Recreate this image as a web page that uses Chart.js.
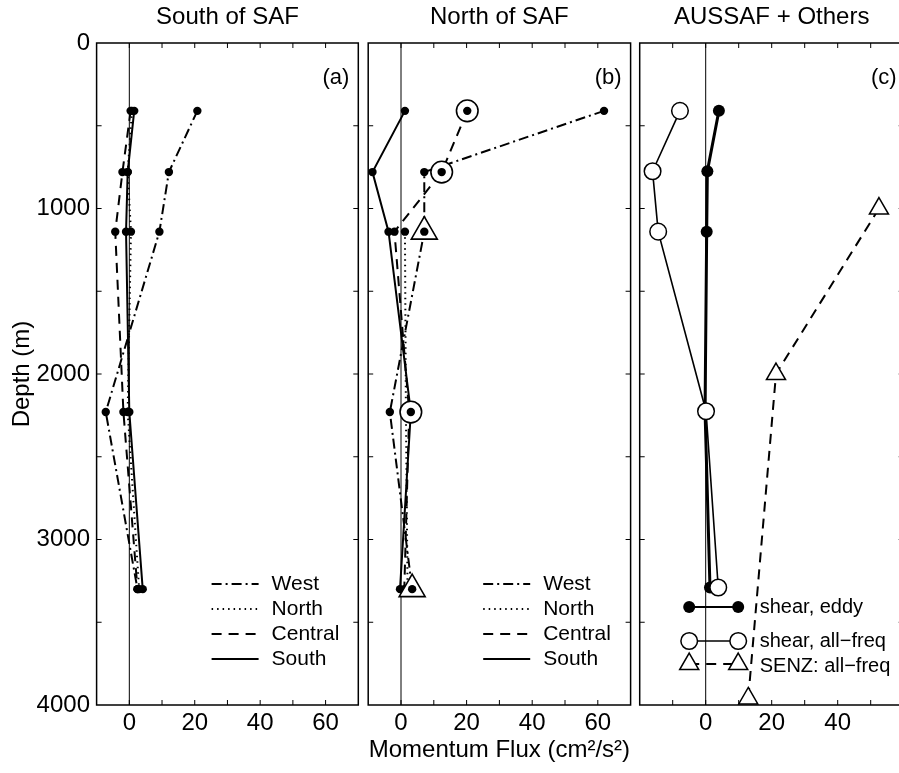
<!DOCTYPE html>
<html><head><meta charset="utf-8">
<script src="https://cdn.jsdelivr.net/npm/chart.js@4.4.0/dist/chart.umd.min.js"></script>
<style>
html,body{margin:0;padding:0;background:#fff;overflow:hidden;width:899px;height:773px;position:relative;}
canvas{position:absolute;top:0;}
</style></head><body>
<canvas id="ca" width="362" height="773" style="left:0px"></canvas>
<canvas id="cb" width="270" height="773" style="left:364px"></canvas>
<canvas id="cc" width="270" height="773" style="left:636px"></canvas>
<script>
// ---------------- DATA ----------------
const depths = [410, 780, 1140, 2230, 3300];           // m
const categories = ['West', 'North', 'Central', 'South'];
// Panel (a) South of SAF
const aWest    = [20.8, 12.1, 9.2, -7.2, 2.5];
const aNorth   = [0.8, -0.5, 0.5, -0.5, 3.0];
const aCentral = [0.4, -2.1, -4.3, -1.8, 2.5];
const aSouth   = [1.5, -0.5, -1.0, 0.0, 4.1];
// Panel (b) North of SAF
const bWest    = [61.9, 7.1, 7.1, -3.4, 3.4];
const bNorth   = [null, null, 1.2, 1.5, 2.0];
const bCentral = [20.2, 12.4, -2.0, 2.5, 1.0];
const bSouth   = [1.2, -8.7, -3.8, 3.0, -0.3];
const bCircled    = [['Central', 0], ['Central', 1], ['South', 3]];
const bTriangled  = [['West', 2], ['West', 4]];
// Panel (c) AUSSAF + Others
const cDepths    = [410, 775, 1140, 2225, 3290];
const cShearEddy = [4.0, 0.5, 0.3, -0.2, 1.3];
const cShearAll  = [-7.8, -16.1, -14.4, 0.1, 3.8];
const senzDepths = [1000, 2000, 3960];
const senzAll    = [52.5, 21.3, 12.9];
// Ticks
const xTicksAB = [0, 20, 40, 60];
const xTicksC  = [0, 20, 40];
const yTicks   = [0, 1000, 2000, 3000, 4000];
const titles = ['South of SAF', 'North of SAF', 'AUSSAF + Others'];
const cLabels = ['shear, eddy', 'shear, all\u2212freq', 'SENZ: all\u2212freq'];

// ---------------- STYLES ----------------
const F = "'Liberation Sans', Arial, Helvetica, sans-serif";
const dashOf = { West: [10, 4, 2, 4], North: [1.5, 4], Central: [10, 7], South: [] };

function pts(xs, ys) {
  const d = [];
  xs.forEach((v, i) => { if (v !== null) d.push({ x: v, y: ys[i] }); });
  return d;
}
function lineDs(xs, ys, st, order) {
  return {
    data: pts(xs, ys), showLine: true, borderColor: '#000', borderWidth: st.lw,
    borderDash: st.dash || [], pointStyle: st.ps || 'circle', pointRadius: st.r,
    pointBackgroundColor: st.fill || '#000', pointBorderColor: '#000',
    pointBorderWidth: st.pbw || 0, order: order, clip: false
  };
}
function markDs(list, series, style, r, fill, bw, order) {
  return {
    data: list.map(([k, i]) => ({ x: series[k][i], y: depths[i] })),
    showLine: false, pointStyle: style, pointRadius: r, pointBackgroundColor: fill,
    pointBorderColor: '#000', pointBorderWidth: bw, order: order, clip: false
  };
}

function drawMarker(ctx, style, x, y, r, fill, bw) {
  ctx.save();
  ctx.beginPath();
  if (style === 'triangle') {
    for (let k = 0; k < 3; k++) {
      const ang = k * 2 * Math.PI / 3;
      const px = x + Math.sin(ang) * r, py = y - Math.cos(ang) * r;
      k === 0 ? ctx.moveTo(px, py) : ctx.lineTo(px, py);
    }
    ctx.closePath();
  } else {
    ctx.arc(x, y, r, 0, Math.PI * 2);
  }
  ctx.fillStyle = fill; ctx.fill();
  if (bw > 0) { ctx.lineWidth = bw; ctx.strokeStyle = '#000'; ctx.stroke(); }
  ctx.restore();
}

const decor = {
  id: 'decor',
  beforeDatasetsDraw(chart, args, o) {
    const { ctx, chartArea: a, scales: { x } } = chart;
    ctx.save();
    ctx.strokeStyle = '#000'; ctx.lineWidth = 1;
    const x0 = x.getPixelForValue(0);
    ctx.beginPath(); ctx.moveTo(x0, a.top); ctx.lineTo(x0, a.bottom); ctx.stroke();
    ctx.restore();
  },
  afterDraw(chart, args, o) {
    const { ctx, chartArea: a, scales: { x, y } } = chart;
    ctx.save();
    ctx.strokeStyle = '#000';
    ctx.lineWidth = 1;
    ctx.beginPath();
    for (let v = Math.ceil((x.min + 0.001) / 10) * 10; v < x.max - 0.001; v += 10) {
      const px = x.getPixelForValue(v);
      ctx.moveTo(px, a.top); ctx.lineTo(px, a.top + 5);
      ctx.moveTo(px, a.bottom); ctx.lineTo(px, a.bottom - 5);
    }
    for (let v = 500; v < 4000; v += 500) {
      const py = y.getPixelForValue(v);
      ctx.moveTo(a.left, py); ctx.lineTo(a.left + 5, py);
      ctx.moveTo(a.right, py); ctx.lineTo(a.right - 5, py);
    }
    ctx.stroke();
    ctx.lineWidth = 1.5;
    ctx.strokeRect(a.left, a.top, a.right - a.left, a.bottom - a.top);
    ctx.fillStyle = '#000';
    ctx.font = '22px ' + F;
    ctx.textAlign = 'right'; ctx.textBaseline = 'middle';
    ctx.fillText(o.letter, a.right - o.letterDx, a.top + 35);
    const L = o.legend;
    ctx.font = L.font + 'px ' + F;
    ctx.textAlign = 'left';
    L.rows.forEach(r => {
      const yy = a.top + r.dy;
      const x1 = a.left + L.x1, x2 = a.left + L.x2;
      ctx.save();
      ctx.lineWidth = r.lw; ctx.setLineDash(r.dash || []);
      ctx.beginPath(); ctx.moveTo(x1, yy); ctx.lineTo(x2, yy); ctx.stroke();
      ctx.restore();
      if (r.marker) {
        drawMarker(ctx, r.marker, x1, yy, r.mr, r.mfill, r.mbw);
        drawMarker(ctx, r.marker, x2, yy, r.mr, r.mfill, r.mbw);
      }
      ctx.fillStyle = '#000';
      ctx.fillText(r.label, a.left + L.tx, yy + (r.tdy || 0));
    });
    ctx.restore();
  }
};

function makeChart(id, cfg) {
  return new Chart(document.getElementById(id), {
    type: 'scatter',
    data: { datasets: cfg.datasets },
    options: {
      responsive: false, animation: false, devicePixelRatio: 1, events: [],
      layout: { padding: cfg.padding, autoPadding: false },
      plugins: {
        legend: { display: false }, tooltip: { enabled: false },
        title: { display: true, text: cfg.title, fullSize: false, color: '#000',
          font: { family: F, size: 24, weight: 'normal' }, padding: { top: 3, bottom: 11.2 } },
        decor: cfg.decor
      },
      scales: {
        x: {
          type: 'linear', min: cfg.xmin, max: cfg.xmax,
          grid: { display: false, drawTicks: false }, border: { display: false },
          ticks: { color: '#000', font: { family: F, size: 24 }, padding: 4, maxRotation: 0, autoSkip: false,
            callback: v => String(v) },
          afterBuildTicks: s => { s.ticks = cfg.xticks.map(v => ({ value: v })); },
          afterFit: s => { s.height = 68; s.paddingLeft = 0; s.paddingRight = 0; },
          title: cfg.xtitle ? { display: true, text: cfg.xtitle, color: '#000',
            font: { family: F, size: 24 }, padding: { top: 0, bottom: 8.6 } } : { display: false }
        },
        y: {
          type: 'linear', reverse: true, min: 0, max: 4000, display: cfg.showY,
          grid: { display: false, drawTicks: false }, border: { display: false },
          ticks: { color: '#000', font: { family: F, size: 24 }, padding: 6.6, autoSkip: false,
            callback: v => String(v) },
          afterBuildTicks: s => { s.ticks = yTicks.map(v => ({ value: v })); },
          afterFit: s => { s.width = cfg.showY ? 96.6 : 0; s.paddingTop = 0; s.paddingBottom = 0; },
          title: { display: cfg.showY, text: 'Depth (m)', color: '#000',
            font: { family: F, size: 24 }, padding: { top: 7.6, bottom: 0 } }
        }
      }
    },
    plugins: [decor]
  });
}

const legendAB = {
  x1: 115, x2: 162, tx: 175, font: 21,
  rows: categories.map((c, i) => ({ label: c, dash: dashOf[c], lw: 2, dy: 541 + 25 * i }))
};

// Panel (a)
const aSeries = { West: aWest, North: aNorth, Central: aCentral, South: aSouth };
makeChart('ca', {
  title: titles[0], xmin: -10, xmax: 70, xticks: xTicksAB, showY: true,
  padding: { left: 0, right: 3.7, top: 0, bottom: 0 },
  datasets: categories.map((c, i) => lineDs(aSeries[c], depths, { lw: 2, dash: dashOf[c], r: 4.2 }, 5 + i)),
  decor: { letter: '(a)', letterDx: 9, legend: legendAB }
});

// Panel (b)
const bSeries = { West: bWest, North: bNorth, Central: bCentral, South: bSouth };
makeChart('cb', {
  title: titles[1], xmin: -10, xmax: 70, xticks: xTicksAB, showY: false,
  xtitle: 'Momentum Flux (cm\u00b2/s\u00b2)',
  padding: { left: 4.2, right: 3.4, top: 0, bottom: 0 },
  datasets: [
    markDs(bCircled, bSeries, 'circle', 4.2, '#000', 0, 1),
    markDs(bTriangled, bSeries, 'circle', 4.2, '#000', 0, 1),
    markDs(bCircled, bSeries, 'circle', 10.8, '#fff', 1.6, 2),
    markDs(bTriangled, bSeries, 'triangle', 15, '#fff', 1.6, 2),
    ...categories.map((c, i) => lineDs(bSeries[c], depths, { lw: 2, dash: dashOf[c], r: 4.2 }, 5 + i))
  ],
  decor: { letter: '(b)', letterDx: 9, legend: legendAB }
});

// Panel (c)
makeChart('cc', {
  title: titles[2], xmin: -20, xmax: 60, xticks: xTicksC, showY: false,
  padding: { left: 3.7, right: 2.3, top: 0, bottom: 0 },
  datasets: [
    lineDs(cShearAll, cDepths, { lw: 1.6, r: 8.3, fill: '#fff', pbw: 1.5 }, 2),
    lineDs(cShearEddy, cDepths, { lw: 3, r: 6 }, 3),
    lineDs(senzAll, senzDepths, { lw: 2, dash: [10, 7], ps: 'triangle', r: 11, fill: '#fff', pbw: 1.5 }, 4)
  ],
  decor: { letter: '(c)', letterDx: 7, legend: {
    x1: 49.5, x2: 98.5, tx: 120, font: 20,
    rows: [
      { label: cLabels[0], lw: 2, dy: 564, marker: 'circle', mr: 6, mfill: '#000', mbw: 0 },
      { label: cLabels[1], lw: 1.6, dy: 598, marker: 'circle', mr: 8.3, mfill: '#fff', mbw: 1.5 },
      { label: cLabels[2], lw: 2, dash: [10, 7], dy: 621, marker: 'triangle', mr: 11, mfill: '#fff', mbw: 1.5, tdy: 2 }
    ]
  } }
});
</script>
</body></html>
